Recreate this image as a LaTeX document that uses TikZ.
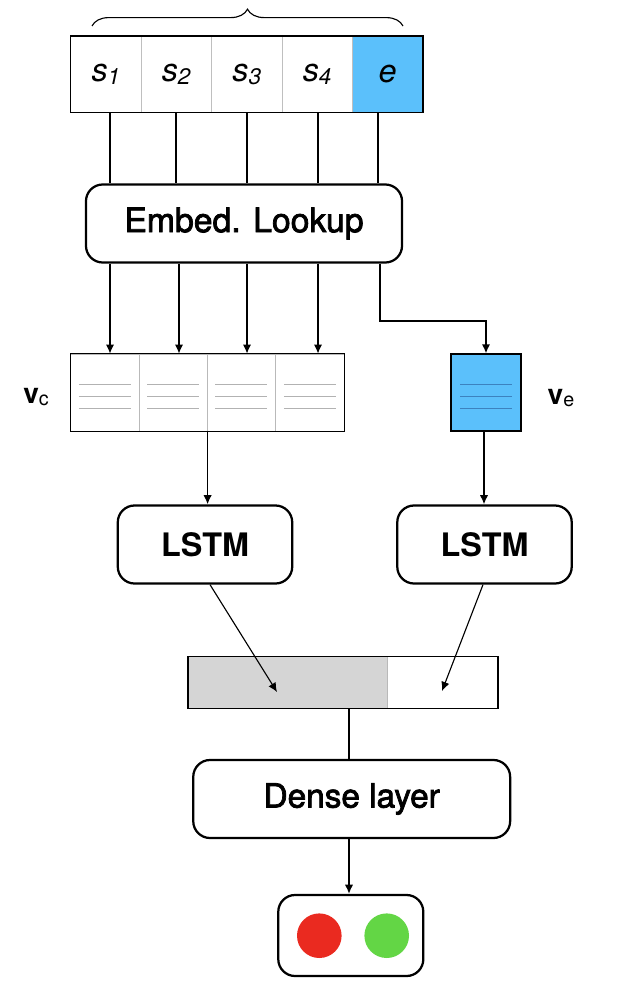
\documentclass[tikz,border=0pt]{standalone}
\usepackage{fontspec}
\setmainfont{TeX Gyre Heros}
\newfontfamily\mediumfont[FakeBold=2.2]{TeX Gyre Heros}
\usepackage{tikz}
\usetikzlibrary{arrows.meta,positioning,decorations.pathreplacing}
\definecolor{cellblue}{HTML}{5BC0FB}
\definecolor{lineblue}{HTML}{3C82BF}
\definecolor{concatgray}{HTML}{D5D5D5}
\definecolor{outred}{HTML}{EA2A20}
\definecolor{outgreen}{HTML}{63D645}
\newcommand{\mTok}[2]{\textit{#1}\raisebox{-2.5pt}{\fontsize{16}{16}\selectfont\textit{#2}}}
\newcommand{\mVec}[1]{\textbf{v}\raisebox{-2pt}{\fontsize{14}{14}\selectfont #1}}
\newcommand{\mBars}[2]{\foreach \dy in {-8,4,16} \draw[line width=1.3pt,#2] (#1.center) ++(-26,\dy) -- ++(52,0)}
\tikzset{
  tok/.style={draw=gray!50, minimum width=1.76cm, minimum height=1.9cm, inner sep=0pt, font=\fontsize{23}{23}\selectfont},
  vcell/.style={draw=gray!55, minimum width=1.7075cm, minimum height=1.925cm, inner sep=0pt},
  block/.style={draw, line width=1.6pt, rounded corners=0.42cm, minimum height=1.95cm, inner sep=0pt},
  link/.style={line width=1.2pt},
  thinlink/.style={line width=0.8pt}
}
\begin{document}
\begin{tikzpicture}[x=0.025cm, y=-0.025cm, >={Latex[length=6.5pt,width=6pt]}]
    \useasboundingbox (0,0) rectangle (624,998);
    % input tokens
    \node[tok] (s1) at (105.9,74.3) {\mTok{s}{1}};
    \node[tok] (s2) at (176.3,74.3) {\mTok{s}{2}};
    \node[tok] (s3) at (246.7,74.3) {\mTok{s}{3}};
    \node[tok] (s4) at (317.1,74.3) {\mTok{s}{4}};
    \node[tok,fill=cellblue] (e) at (387.5,74.3) {\textit{e}};
    \draw[line width=1pt] (s1.north west) rectangle (e.south east);
    \draw[thinlink,decorate,decoration={brace,amplitude=0.42cm}] (92,26) -- (403,26);
    \node[block, minimum width=7.9cm, font=\fontsize{24}{24}\selectfont\mediumfont] (embed) at (244,223.5) {Embed. Lookup};
    \foreach \n/\x in {s1/110,s2/176,s3/247,s4/318,e/378}
        \draw[link] (\x,0 |- \n.south) -- (\x,0 |- embed.north);
    % context and entity vectors
    \node[vcell] (v1) at (104.85,392.5) {};
    \node[vcell] (v2) at (173.15,392.5) {};
    \node[vcell] (v3) at (241.45,392.5) {};
    \node[vcell] (v4) at (309.75,392.5) {};
    \draw[thinlink] (v1.north west) rectangle (v4.south east);
    \foreach \v in {v1,v2,v3,v4} {\mBars{\v}{gray!60};}
    \node[vcell, draw=black, line width=0.8pt, fill=cellblue, minimum width=1.75cm] (ve) at (486,392.5) {};
    \mBars{ve}{lineblue};
    \node (vclab) at (36,397) {\fontsize{20}{20}\selectfont\mVec{c}};
    \node (velab) at (561,398) {\fontsize{20}{20}\selectfont\mVec{e}};
    \foreach \n/\x in {v1/110,v2/179,v3/247,v4/318}
        \draw[link,->] (\x,0 |- embed.south) -- (\x,0 |- \n.north);
    \draw[link,->] (380,0 |- embed.south) -- (380,321) -| (ve.north);
    % encoders
    \node[block, minimum width=4.36cm, font=\fontsize{23}{23}\selectfont\bfseries] (lstmc) at (205,544.5) {LSTM};
    \node[block, minimum width=4.36cm, font=\fontsize{23}{23}\selectfont\bfseries] (lstme) at (484.5,544.5) {LSTM};
    \draw[link,->] (v2.south east) -- (v2.south east |- lstmc.north);
    \draw[link,->] (484,0 |- ve.south) -- (484,0 |- lstme.north);
    % concatenation
    \node[draw=gray!55, fill=concatgray, minimum width=4.975cm, minimum height=1.29cm, inner sep=0pt] (catc) at (287.8,682.5) {};
    \node[minimum width=2.76cm, minimum height=1.29cm, inner sep=0pt] (cate) at (442.5,682.5) {};
    \draw[thinlink] (catc.north west) rectangle (cate.south east);
    \coordinate (pc) at (277,692);
    \coordinate (pe) at (442,691);
    \draw[thinlink,->] (210,0 |- lstmc.south) -- (pc);
    \draw[thinlink,->] (483,0 |- lstme.south) -- (pe);
    % output
    \node[block, minimum width=7.92cm, font=\fontsize{23.7}{23.7}\selectfont\mediumfont] (dense) at (351.7,799) {Dense layer};
    \draw[link] (349,0 |- cate.south) -- (349,0 |- dense.north);
    \node[block, minimum width=3.625cm, minimum height=2.025cm] (out) at (350.8,935.5) {};
    \draw[link,->] (349,0 |- dense.south) -- (349,0 |- out.north);
    \node[circle, fill=outred, minimum size=1.115cm, inner sep=0pt] (neg) at (319.3,935.7) {};
    \node[circle, fill=outgreen, minimum size=1.115cm, inner sep=0pt] (pos) at (386.7,935.7) {};
\end{tikzpicture}
\end{document}
